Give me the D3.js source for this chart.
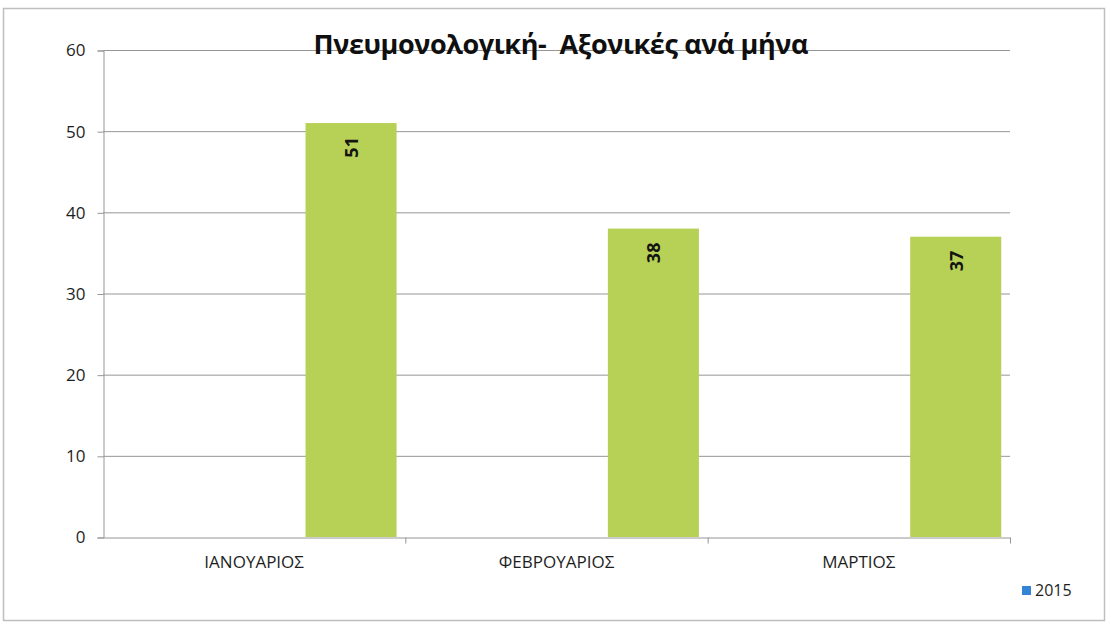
<!DOCTYPE html>
<html>
<head>
<meta charset="utf-8">
<script src="https://cdn.jsdelivr.net/npm/d3@7"></script>
<style>
  body { margin: 0; background: #fff; }
  text { font-family: "Open Sans", "DejaVu Sans", sans-serif; }
</style>
</head>
<body>
<script>
var width = 1111;
var height = 625;
var chartTitle = "Πνευμονολογική-  Αξονικές ανά μήνα";
var months = ["ΙΑΝΟΥΑΡΙΟΣ", "ΦΕΒΡΟΥΑΡΙΟΣ", "ΜΑΡΤΙΟΣ"];
var counts = [51, 38, 37];
var yTicks = [0, 10, 20, 30, 40, 50, 60];
var legendLabel = "2015";
// the bar sits in the last of three slots inside each month group
var slots = [0, 1, 2];
var barSlot = 2;

var barColor = "rgb(183,209,86)";
var gridColor = "rgb(150,150,150)";
var textColor = "rgb(30,30,30)";
var legendColor = "rgb(52,132,214)";

var margin = {left: 103, right: 101, top: 50, bottom: 88};

window.onload = function() {
  var svg = d3.select("body").append("svg")
    .attr("width", width)
    .attr("height", height);

  // outer frame of the chart
  svg.append("rect")
    .attr("x", 3.5).attr("y", 8.5)
    .attr("width", 1101).attr("height", 612)
    .attr("fill", "none")
    .attr("stroke", "rgb(190,190,190)")
    .attr("stroke-width", 1.5);

  var x0 = d3.scaleBand()
    .domain(months)
    .range([margin.left, width - margin.right]);

  var x1 = d3.scaleBand()
    .domain(slots)
    .range([0, x0.bandwidth()])
    .paddingOuter(0.16)
    .align(0.7);

  var y = d3.scaleLinear()
    .domain([0, 60])
    .range([height - margin.bottom, margin.top]);

  // gridlines
  svg.append("g")
    .selectAll("line.grid")
    .data(yTicks.filter(function(d) { return d > 0; }))
    .enter().append("line")
      .attr("x1", margin.left).attr("x2", width - margin.right)
      .attr("y1", function(d) { return y(d) + 0.5; })
      .attr("y2", function(d) { return y(d) + 0.5; })
      .attr("stroke", gridColor)
      .attr("stroke-width", 1);

  // y axis
  var yAxis = svg.append("g")
    .attr("transform", "translate(" + (margin.left + 0.5) + ",0.5)")
    .call(d3.axisLeft(y).tickValues(yTicks).tickSize(6).tickPadding(12));
  yAxis.select(".domain").attr("stroke", gridColor);
  yAxis.selectAll(".tick line").attr("stroke", gridColor);
  yAxis.selectAll(".tick text")
    .attr("font-family", "Open Sans")
    .attr("font-size", 17)
    .attr("fill", textColor);

  // bars
  svg.append("g")
    .selectAll("rect.bar")
    .data(counts)
    .enter().append("rect")
      .attr("x", function(d, i) { return x0(months[i]) + x1(barSlot); })
      .attr("y", function(d) { return y(d); })
      .attr("width", x1.bandwidth())
      .attr("height", function(d) { return y(0) - y(d); })
      .attr("fill", barColor);

  // value labels, rotated
  svg.append("g")
    .selectAll("text.value")
    .data(counts)
    .enter().append("text")
      .attr("transform", function(d, i) {
        var cx = x0(months[i]) + x1(barSlot) + x1.bandwidth() / 2;
        return "translate(" + (cx + 7) + "," + (y(d) + 14) + ") rotate(-90)";
      })
      .attr("text-anchor", "end")
      .attr("font-family", "Open Sans")
      .attr("font-weight", "bold")
      .attr("font-size", 18)
      .attr("fill", "rgb(20,20,20)")
      .text(function(d) { return d; });

  // x axis
  var xAxis = svg.append("g")
    .attr("transform", "translate(0," + (y(0) + 0.5) + ")")
    .call(d3.axisBottom(x0).tickSize(0).tickPadding(18));
  xAxis.select(".domain").attr("stroke", gridColor);
  xAxis.selectAll(".tick text")
    .attr("font-family", "Open Sans")
    .attr("font-size", 17)
    .attr("fill", textColor);
  xAxis.selectAll("line.sep")
    .data(months)
    .enter().append("line")
      .attr("x1", function(d) { return x0(d) + x0.bandwidth() + 0.5; })
      .attr("x2", function(d) { return x0(d) + x0.bandwidth() + 0.5; })
      .attr("y1", 0).attr("y2", 6)
      .attr("stroke", gridColor);

  // title
  svg.append("text")
    .attr("x", 561)
    .attr("y", 54)
    .attr("text-anchor", "middle")
    .attr("font-family", "Open Sans")
    .attr("font-weight", "bold")
    .attr("font-size", 27)
    .attr("textLength", 495)
    .style("white-space", "pre")
    .attr("fill", "rgb(15,15,15)")
    .text(chartTitle);

  // legend
  var legend = svg.append("g").attr("transform", "translate(1022,586)");
  legend.append("rect")
    .attr("width", 9).attr("height", 9)
    .attr("fill", legendColor);
  legend.append("text")
    .attr("x", 13).attr("y", 10)
    .attr("font-family", "Open Sans")
    .attr("font-size", 16)
    .attr("fill", textColor)
    .text(legendLabel);
};
</script>
</body>
</html>
